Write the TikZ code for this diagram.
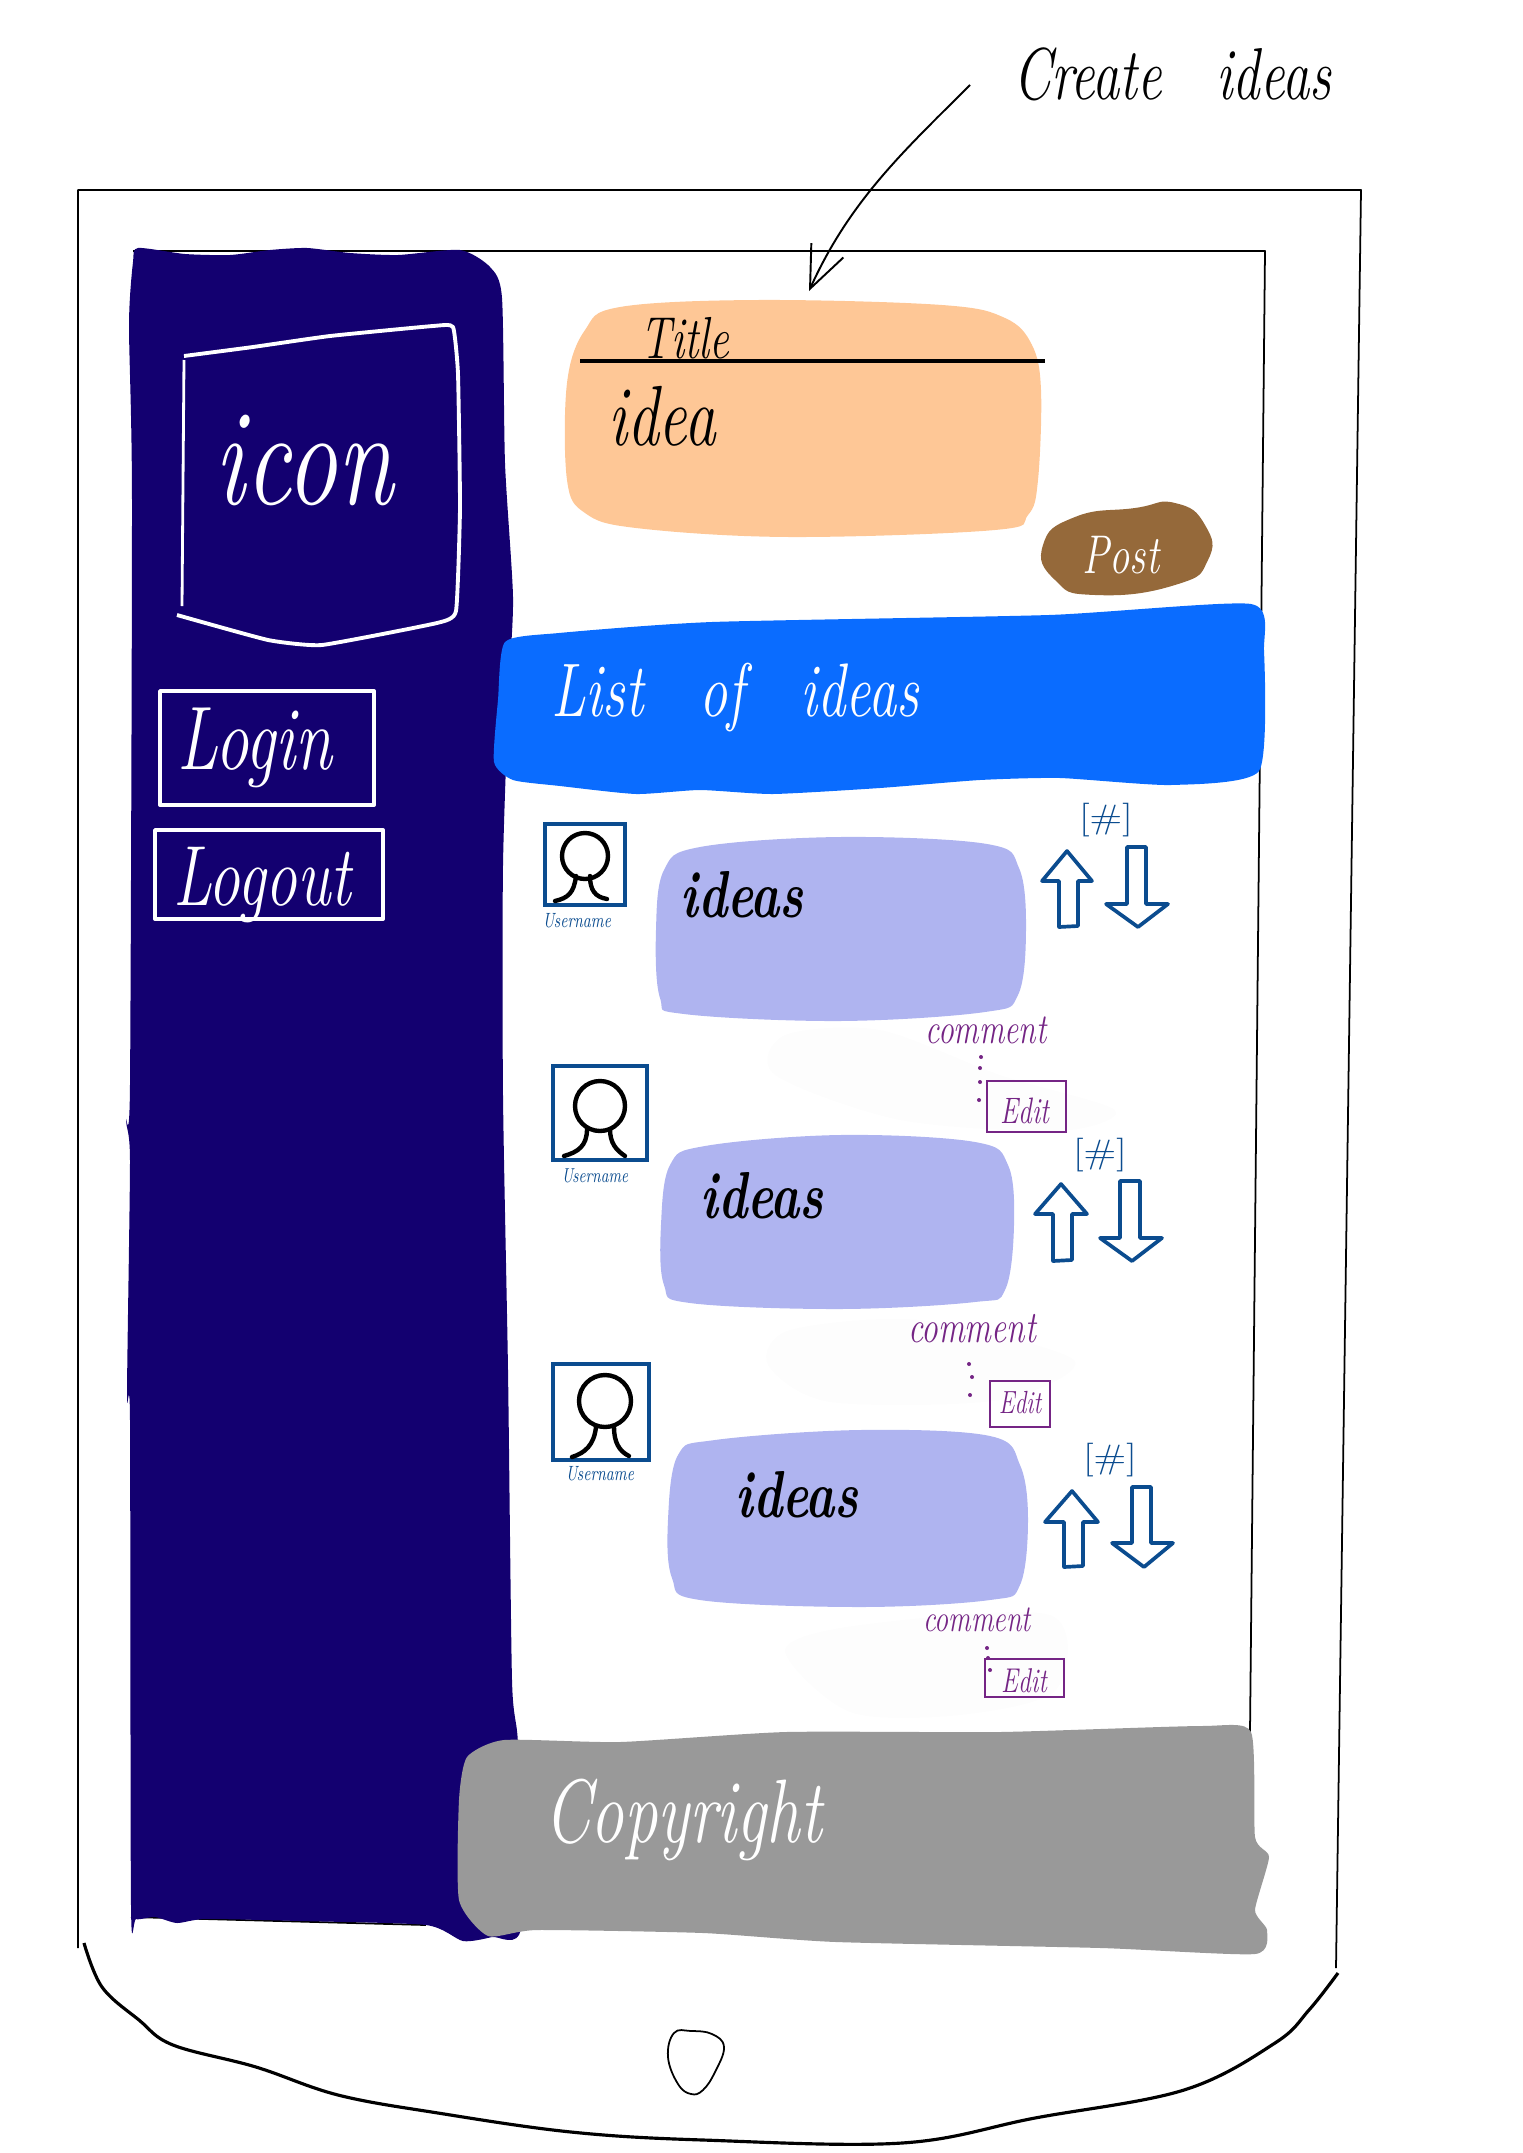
\documentclass[tikz,border=0pt]{standalone}
\usepackage{tikz}
\usetikzlibrary{arrows.meta}

\definecolor{navypanel}{HTML}{130070}
\definecolor{listblue}{HTML}{0A6CFF}
\definecolor{postbrown}{HTML}{95693A}
\definecolor{titleorange}{HTML}{FEC796}
\definecolor{idealilac}{HTML}{AFB4F0}
\definecolor{footgrey}{HTML}{999999}
\definecolor{voteblue}{HTML}{0B4C8F}
\definecolor{editpurple}{HTML}{752585}
\definecolor{smudge}{HTML}{FDFDFD}

\newcommand{\hand}[2]{\fontsize{#1}{#1}\selectfont\scalebox{1}[1.35]{\itshape #2}}
\newcommand{\votecount}[1]{\fontsize{24pt}{24pt}\selectfont\scalebox{1}[0.8]{#1}}

\tikzset{
    x=0.02cm, y=-0.02cm,
    outline/.style={draw=black, line width=1pt, line join=round},
    sketchbox/.style={draw=white, line width=2.2pt, line join=round},
    avatarbox/.style={draw=voteblue, line width=2.2pt},
    headline/.style={draw=black, line width=2.5pt, line cap=round},
    editbox/.style={draw=editpurple, line width=1.1pt},
    votearrow/.style={draw=voteblue, line width=2.1pt, line join=round},
    dotmark/.style={fill=editpurple},
    hblack/.style={text=black, inner sep=0pt},
    hwhite/.style={text=white, inner sep=0pt},
    hblue/.style={text=voteblue, inner sep=0pt},
    hpurple/.style={text=editpurple, inner sep=0pt}
}

\begin{document}
\begin{tikzpicture}
    \useasboundingbox (0,0) rectangle (1522,2153);

    % device
    \draw[outline] (78,1948) -- (78,190) -- (1361,190) -- (1336,1968);
    \draw[outline] (133,251) -- (1265,251) -- (1250,1732);
    \draw[outline] (131,1917) -- (426,1925);
    \draw[outline, line width=1.8pt] plot[smooth, tension=0.6] coordinates {(84,1943) (102,1987) (139,2020) (173,2045) (256,2067) (338,2095) (438,2113) (571,2132) (703,2140) (902,2143) (1035,2118) (1184,2090) (1275,2043) (1309,2010) (1338,1973)};
    \draw[outline] plot[smooth cycle, tension=0.7] coordinates {(691,2031) (712,2034) (724,2047) (715,2072) (703,2090) (691,2094) (678,2084) (668,2057) (674,2033)};

    % faint marks
    \fill[smudge] plot[smooth cycle] coordinates {(785,1035) (880,1030) (1000,1075) (1115,1110) (1060,1131) (900,1120) (775,1075)};
    \fill[smudge] plot[smooth cycle] coordinates {(790,1330) (920,1320) (1074,1360) (1000,1400) (830,1402) (768,1365)};
    \fill[smudge] plot[smooth cycle] coordinates {(860,1625) (1050,1615) (1056,1690) (960,1715) (850,1712) (785,1650)};

    % side panel
    \fill[navypanel] plot[smooth cycle, tension=0.4] coordinates {(138,248) (185,254) (230,255) (270,250) (307,248) (350,253) (398,255) (460,250) (490,267) (502,298) (505,463) (513,597) (509,686) (503,865) (503,1096) (508,1370) (512,1680) (518,1745) (521,1928) (492,1937) (463,1941) (426,1925) (300,1921) (206,1919) (177,1923) (155,1917) (136,1919) (131,1905) (130,1420) (127,1395) (130,1160) (126,1120) (130,1085) (132,500) (129,325) (133,262)};
    \draw[sketchbox] plot[smooth, tension=0.25] coordinates {(184,356) (253,347) (330,336) (433,326) (453,327) (458,374) (460,508) (456,611) (437,623) (322,645) (268,640) (177,615)};
    \draw[sketchbox, line width=1.6pt] (182,606) -- (184,360);
    \draw[sketchbox] (160,691) rectangle (374,805);
    \draw[sketchbox] (155,830) rectangle (383,919);

    % coloured blocks
    \fill[titleorange] plot[smooth cycle, tension=0.6] coordinates {(620,307) (758,300) (942,305) (1005,318) (1032,345) (1041,390) (1038,480) (1028,515) (995,530) (789,537) (636,528) (585,513) (567,480) (567,383) (585,330)};
    \draw[outline, line width=1.8pt] (580,361) -- (1045,361);
    \fill[postbrown] plot[smooth cycle, tension=0.9] coordinates {(1075,517) (1135,508) (1175,503) (1205,525) (1208,560) (1175,585) (1095,595) (1055,580) (1043,545)};
    \fill[listblue] plot[smooth cycle, tension=0.35] coordinates {(505,642) (559,633) (712,622) (1049,615) (1251,604) (1264,651) (1259,771) (1171,785) (1060,778) (980,780) (880,788) (773,794) (700,790) (636,794) (560,786) (513,780) (494,762) (498,700)};
    \fill[idealilac] plot[smooth cycle, tension=0.6] coordinates {(700,847) (840,837) (987,844) (1019,868) (1026,930) (1018,995) (985,1012) (840,1021) (684,1014) (660,998) (656,930) (664,870)};
    \fill[idealilac] plot[smooth cycle, tension=0.6] coordinates {(705,1146) (840,1135) (975,1142) (1008,1165) (1014,1225) (1005,1290) (975,1302) (840,1309) (690,1303) (664,1285) (661,1225) (670,1165)};
    \fill[idealilac] plot[smooth cycle, tension=0.6] coordinates {(715,1440) (860,1430) (990,1436) (1020,1465) (1028,1520) (1020,1585) (990,1600) (860,1607) (700,1600) (672,1578) (668,1520) (678,1455)};
    \fill[footgrey] plot[smooth cycle, tension=0.35] coordinates {(467,1757) (504,1740) (620,1742) (786,1732) (1000,1732) (1201,1726) (1251,1732) (1255,1837) (1269,1857) (1255,1910) (1267,1930) (1255,1954) (1101,1948) (836,1942) (703,1933) (537,1930) (488,1936) (459,1900) (459,1800)};

    % avatars
    \draw[avatarbox] (545,824) rectangle (625,905);
    \draw[headline] (585,856) circle [radius=23];
    \draw[headline] (576,876) .. controls (574,893) and (568,898) .. (555,901);
    \draw[headline] (590,876) .. controls (590,890) and (595,897) .. (607,899);
    \draw[avatarbox] (553,1066) rectangle (647,1160);
    \draw[headline] (600,1106) circle [radius=25];
    \draw[headline] (587,1129) .. controls (587,1146) and (578,1152) .. (564,1156);
    \draw[headline] (610,1129) .. controls (610,1143) and (616,1150) .. (625,1156);
    \draw[avatarbox] (553,1364) rectangle (649,1460);
    \draw[headline] (605,1401) circle [radius=26];
    \draw[headline] (596,1427) .. controls (594,1445) and (585,1453) .. (572,1457);
    \draw[headline] (614,1427) .. controls (614,1442) and (619,1451) .. (629,1456);

    % vote arrows
    \draw[votearrow] (1067,851) -- (1092,881) -- (1078,881) -- (1078,926) -- (1059,927) -- (1059,881) -- (1042,881) -- cycle;
    \draw[votearrow] (1127,847) -- (1146,847) -- (1146,904) -- (1168,904) -- (1138,927) -- (1106,904) -- (1127,904) -- cycle;
    \draw[votearrow] (1061,1184) -- (1087,1214) -- (1072,1214) -- (1072,1260) -- (1053,1261) -- (1053,1214) -- (1035,1214) -- cycle;
    \draw[votearrow] (1120,1181) -- (1140,1181) -- (1140,1238) -- (1162,1238) -- (1132,1261) -- (1100,1238) -- (1120,1238) -- cycle;
    \draw[votearrow] (1072,1491) -- (1098,1522) -- (1083,1522) -- (1083,1566) -- (1064,1567) -- (1064,1522) -- (1045,1522) -- cycle;
    \draw[votearrow] (1132,1487) -- (1151,1487) -- (1151,1543) -- (1173,1543) -- (1144,1567) -- (1112,1543) -- (1132,1543) -- cycle;

    % edit boxes and dots
    \draw[editbox] (987,1081) rectangle (1066,1132);
    \draw[editbox] (990,1381) rectangle (1050,1427);
    \draw[editbox] (985,1659) rectangle (1064,1697);
    \foreach \dotx/\doty in {981/1057, 980/1068, 980/1082, 979/1100, 969/1364, 972/1377, 970/1395, 987/1648, 988/1658, 990/1670}
        \fill[dotmark] (\dotx,\doty) circle [radius=2];

    % nodes
    \node[hblack] (createideas) at (1172,74) {\hand{31pt}{Create\quad ideas}};
    \node[hblack] (titletext) at (685,338) {\hand{25pt}{Title}};
    \node[hblack] (ideatext) at (662,416) {\hand{36pt}{idea}};
    \node[hwhite] (icontext) at (304,460) {\hand{58pt}{icon}};
    \node[hwhite] (logintext) at (255,748) {\hand{38pt}{Login}};
    \node[hwhite] (logouttext) at (262,885) {\hand{36pt}{Logout}};
    \node[hwhite] (posttext) at (1121,555) {\hand{23pt}{Post}};
    \node[hwhite] (listtext) at (735,698) {\hand{32pt}{List\quad of\quad ideas}};
    \node[hwhite] (copytext) at (683,1820) {\hand{38pt}{Copyright}};
    \node[hblack] (ideasone) at (742,895) {\hand{28pt}{\bfseries ideas}};
    \node[hblack] (ideastwo) at (762,1196) {\hand{28pt}{\bfseries ideas}};
    \node[hblack] (ideasthree) at (797,1495) {\hand{28pt}{\bfseries ideas}};
    \node[hblue] (userone) at (577,921) {\hand{8.7pt}{Username}};
    \node[hblue] (usertwo) at (595,1176) {\hand{8.5pt}{Username}};
    \node[hblue] (userthree) at (600,1474) {\hand{8.7pt}{Username}};
    \node[hblue] (countone) at (1106,820) {\votecount{[\#]}};
    \node[hblue] (counttwo) at (1100,1155) {\votecount{[\#]}};
    \node[hblue] (countthree) at (1110,1460) {\votecount{[\#]}};
    \node[hpurple] (commentone) at (986,1030) {\hand{18pt}{comment}};
    \node[hpurple] (commenttwo) at (972,1329) {\hand{19pt}{comment}};
    \node[hpurple] (commentthree) at (977,1620) {\hand{16pt}{comment}};
    \node[hpurple] (editone) at (1025,1111) {\hand{15.5pt}{Edit}};
    \node[hpurple] (edittwo) at (1020,1403) {\hand{13.5pt}{Edit}};
    \node[hpurple] (editthree) at (1024,1681) {\hand{14.5pt}{Edit}};

    % paths
    \coordinate (arrowstart) at (970,85);
    \coordinate (arrowtip) at (809,291);
    \draw[-{Straight Barb[length=24pt,width=20pt]}, line width=1.1pt] (arrowstart) .. controls (905,150) and (850,200) .. (arrowtip);
\end{tikzpicture}
\end{document}
